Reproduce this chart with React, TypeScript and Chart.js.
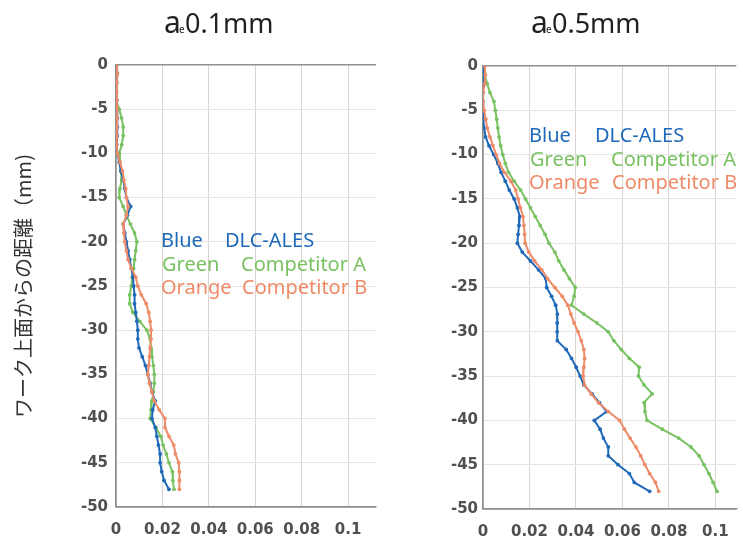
import { useEffect, useRef } from "react";
import { Chart, registerables } from "chart.js";

Chart.register(...registerables);

// depth from the top face of the work (mm), one reading per mm
const depth = [
  0, -1, -2, -3, -4, -5, -6, -7, -8, -9, -10, -11, -12, -13, -14, -15, -16,
  -17, -18, -19, -20, -21, -22, -23, -24, -25, -26, -27, -28, -29, -30, -31,
  -32, -33, -34, -35, -36, -37, -38, -39, -40, -41, -42, -43, -44, -45, -46,
  -47, -48,
];

// ae 0.1mm
const blueThin = [
  0.0003, 0.0006, 0.0003, 0.0, 0.0003, 0.0005, 0.0006, 0.0006, 0.0005, 0.0003,
  0.0006, 0.0014, 0.0021, 0.0031, 0.0038, 0.0045, 0.0063, 0.0049, 0.0031,
  0.0038, 0.0045, 0.0052, 0.0059, 0.0066, 0.0073, 0.0076, 0.008, 0.008, 0.0085,
  0.009, 0.0094, 0.0094, 0.0099, 0.0113, 0.0127, 0.0137, 0.0147, 0.0155,
  0.0169, 0.0158, 0.0155, 0.0169, 0.0176, 0.0183, 0.019, 0.019, 0.0197, 0.0207,
  0.0228,
];
const greenThin = [
  0.0, 0.0, 0.0, 0.0001, 0.0003, 0.0014, 0.0024, 0.0031, 0.0031, 0.0025,
  0.0014, 0.0017, 0.0021, 0.0024, 0.0017, 0.0014, 0.0031, 0.0045, 0.0062,
  0.008, 0.009, 0.0085, 0.008, 0.0076, 0.007, 0.0066, 0.0059, 0.0059, 0.0073,
  0.0102, 0.0133, 0.0147, 0.0151, 0.0155, 0.0161, 0.0165, 0.0165, 0.0161,
  0.0155, 0.0151, 0.0147, 0.0172, 0.0193, 0.0203, 0.0217, 0.0228, 0.0243,
  0.0245, 0.025,
];
const orangeThin = [
  0.0003, 0.0006, 0.0004, 0.0003, 0.0004, 0.0005, 0.0005, 0.0004, 0.0003,
  0.0003, 0.0006, 0.0017, 0.0028, 0.0034, 0.0042, 0.0045, 0.0052, 0.0045,
  0.0031, 0.0034, 0.0038, 0.0045, 0.0052, 0.0066, 0.0085, 0.0094, 0.0109,
  0.013, 0.0141, 0.0147, 0.0151, 0.0151, 0.0147, 0.0144, 0.0141, 0.0137,
  0.0144, 0.0155, 0.0165, 0.0186, 0.0211, 0.0211, 0.0228, 0.0249, 0.0256,
  0.027, 0.0273, 0.0273, 0.0273,
];

// ae 0.5mm
const blueThick = [
  0.0, 0.0, 0.0, 0.0, 0.0, 0.0, 0.0003, 0.0005, 0.0011, 0.0026, 0.0046, 0.0064,
  0.0078, 0.0096, 0.0113, 0.0134, 0.0148, 0.0158, 0.0155, 0.0151, 0.0148,
  0.0169, 0.0204, 0.0239, 0.027, 0.0274, 0.0295, 0.0313, 0.032, 0.0319, 0.0319,
  0.032, 0.0358, 0.0381, 0.0401, 0.0418, 0.0434, 0.0469, 0.0501, 0.0532,
  0.0479, 0.0504, 0.0518, 0.0539, 0.0539, 0.0581, 0.063, 0.0651, 0.0717,
];
const greenThick = [
  0.0, 0.0008, 0.0018, 0.003, 0.0047, 0.0053, 0.0059, 0.0064, 0.0069, 0.0076,
  0.0085, 0.0096, 0.011, 0.0134, 0.0162, 0.0183, 0.0204, 0.0225, 0.0246,
  0.0267, 0.0284, 0.0309, 0.0326, 0.0348, 0.0372, 0.0397, 0.0392, 0.0381,
  0.0434, 0.049, 0.0539, 0.0563, 0.0595, 0.063, 0.0672, 0.0669, 0.0693, 0.0728,
  0.0693, 0.0697, 0.0706, 0.0772, 0.0842, 0.0895, 0.093, 0.0951, 0.0972, 0.099,
  0.1007,
];
const orangeThick = [
  0.0008, 0.001, 0.0008, 0.0, 0.0, 0.0005, 0.0012, 0.0018, 0.003, 0.0043,
  0.0057, 0.0071, 0.0092, 0.012, 0.0141, 0.0151, 0.0161, 0.0172, 0.0176,
  0.0179, 0.0181, 0.0197, 0.0222, 0.0253, 0.0278, 0.0309, 0.0341, 0.0365,
  0.0378, 0.0392, 0.0409, 0.0423, 0.0434, 0.0437, 0.0434, 0.0431, 0.0437,
  0.0465, 0.0497, 0.0539, 0.0588, 0.0609, 0.0633, 0.0658, 0.0679, 0.0697,
  0.0717, 0.0742, 0.0756,
];

const xTicks = [0, 0.02, 0.04, 0.06, 0.08, 0.1];
const yTicks = [0, -5, -10, -15, -20, -25, -30, -35, -40, -45, -50];

const BLUE = "#1f69b9";
const GREEN = "#78c262";
const ORANGE = "#ee8b68";
const AXIS = "#8e8e8e";

const tickFont = { family: "DejaVu Sans", weight: "bold" as const, size: 15 };

interface PanelProps {
  blue: number[];
  green: number[];
  orange: number[];
  xMax: number;
  left: number;
  width: number;
  axisWidth: number;
  top: number;
  bottomHeight: number;
  yLabelPad: number;
}

function Panel(props: PanelProps) {
  const ref = useRef<HTMLCanvasElement>(null);

  useEffect(() => {
    const pts = (xs: number[]) => xs.map((x, i) => ({ x, y: depth[i] }));
    const line = (label: string, xs: number[], color: string) => ({
      label,
      data: pts(xs),
      showLine: true,
      borderColor: color,
      backgroundColor: color,
      borderWidth: 2,
      pointRadius: 1.9,
      pointBorderWidth: 0,
      tension: 0,
    });

    const chart = new Chart(ref.current!, {
      type: "scatter",
      data: {
        datasets: [
          line("Competitor B", props.orange, ORANGE),
          line("DLC-ALES", props.blue, BLUE),
          line("Competitor A", props.green, GREEN),
        ],
      },
      options: {
        animation: false,
        responsive: false,
        maintainAspectRatio: false,
        layout: { padding: { top: props.top, right: 0, left: 0, bottom: 0 } },
        plugins: { legend: { display: false }, tooltip: { enabled: false } },
        scales: {
          x: {
            type: "linear",
            min: 0,
            max: props.xMax,
            afterFit: (s: any) => {
              s.height = props.bottomHeight;
            },
            afterBuildTicks: (s: any) => {
              s.ticks = xTicks.map((v) => ({ value: v }));
            },
            ticks: {
              color: "#505050",
              font: tickFont,
              padding: 14,
              maxRotation: 0,
              callback: (v: any) => String(v),
            },
            grid: {
              drawTicks: false,
              color: (c: any) => (c.tick && c.tick.value === 0 ? AXIS : "#ddd4d0"),
              lineWidth: (c: any) => (c.tick && c.tick.value === 0 ? 1.5 : 1),
            },
            border: { color: AXIS, width: 1.5 },
          },
          y: {
            type: "linear",
            min: -50,
            max: 0,
            afterFit: (s: any) => {
              s.width = props.axisWidth;
            },
            afterBuildTicks: (s: any) => {
              s.ticks = yTicks.map((v) => ({ value: v }));
            },
            ticks: {
              color: "#505050",
              font: tickFont,
              padding: props.yLabelPad,
              callback: (v: any) => String(v),
            },
            grid: {
              drawTicks: false,
              color: (c: any) =>
                c.tick && (c.tick.value === 0 || c.tick.value === -50) ? AXIS : "#e6e6e6",
              lineWidth: (c: any) =>
                c.tick && (c.tick.value === 0 || c.tick.value === -50) ? 1.5 : 1,
            },
            border: { color: AXIS, width: 1.5 },
          },
        },
      },
    });

    return () => chart.destroy();
  }, []);

  return (
    <canvas
      ref={ref}
      width={props.width}
      height={542}
      style={{ position: "absolute", left: props.left, top: 0, width: props.width, height: 542 }}
    />
  );
}

const legendFont = { fontFamily: "Noto Sans", fontSize: 20 };

function Legend({ x, x2a, x2b, base }: { x: number; x2a: number; x2b: number; base: number }) {
  return (
    <g style={legendFont}>
      <text x={x} y={base} fill={BLUE}>Blue</text>
      <text x={x2a} y={base} fill={BLUE}>DLC-ALES</text>
      <text x={x + 1} y={base + 23.5} fill={GREEN}>Green</text>
      <text x={x2b} y={base + 23.5} fill={GREEN}>Competitor A</text>
      <text x={x} y={base + 47} fill={ORANGE}>Orange</text>
      <text x={x2b + 1} y={base + 47} fill={ORANGE}>Competitor B</text>
    </g>
  );
}

function Title({ x, text }: { x: number; text: string }) {
  return (
    <g style={{ fontFamily: "Noto Sans" }} fill="#231f20">
      <text x={x} y={33} fontSize={30}>a</text>
      <text x={x + 15} y={33} fontSize={10}>e</text>
      <text x={x + 21} y={33} fontSize={27}>{text}</text>
    </g>
  );
}

export default function App() {
  return (
    <div
      style={{
        position: "absolute",
        left: 0,
        top: 0,
        width: 743,
        height: 542,
        background: "#fff",
        overflow: "hidden",
      }}
    >
      <Panel
        blue={blueThin}
        green={greenThin}
        orange={orangeThin}
        xMax={0.112}
        left={0}
        width={380}
        axisWidth={116}
        top={65}
        bottomHeight={35}
        yLabelPad={8}
      />
      <Panel
        blue={blueThick}
        green={greenThick}
        orange={orangeThick}
        xMax={0.109}
        left={400}
        width={343}
        axisWidth={83}
        top={66}
        bottomHeight={33}
        yLabelPad={5}
      />
      <svg
        width={743}
        height={542}
        style={{ position: "absolute", left: 0, top: 0, pointerEvents: "none" }}
      >
        <Title x={164} text="0.1mm" />
        <Title x={531} text="0.5mm" />
        <text
          transform="translate(31,286) rotate(-90)"
          textAnchor="middle"
          fill="#333"
          style={{ fontFamily: "Noto Sans CJK JP", fontSize: 20 }}
        >
          ワーク上面からの距離（mm)
        </text>
        <Legend x={161} x2a={225} x2b={241} base={247} />
        <Legend x={529} x2a={595} x2b={611} base={142} />
      </svg>
    </div>
  );
}
